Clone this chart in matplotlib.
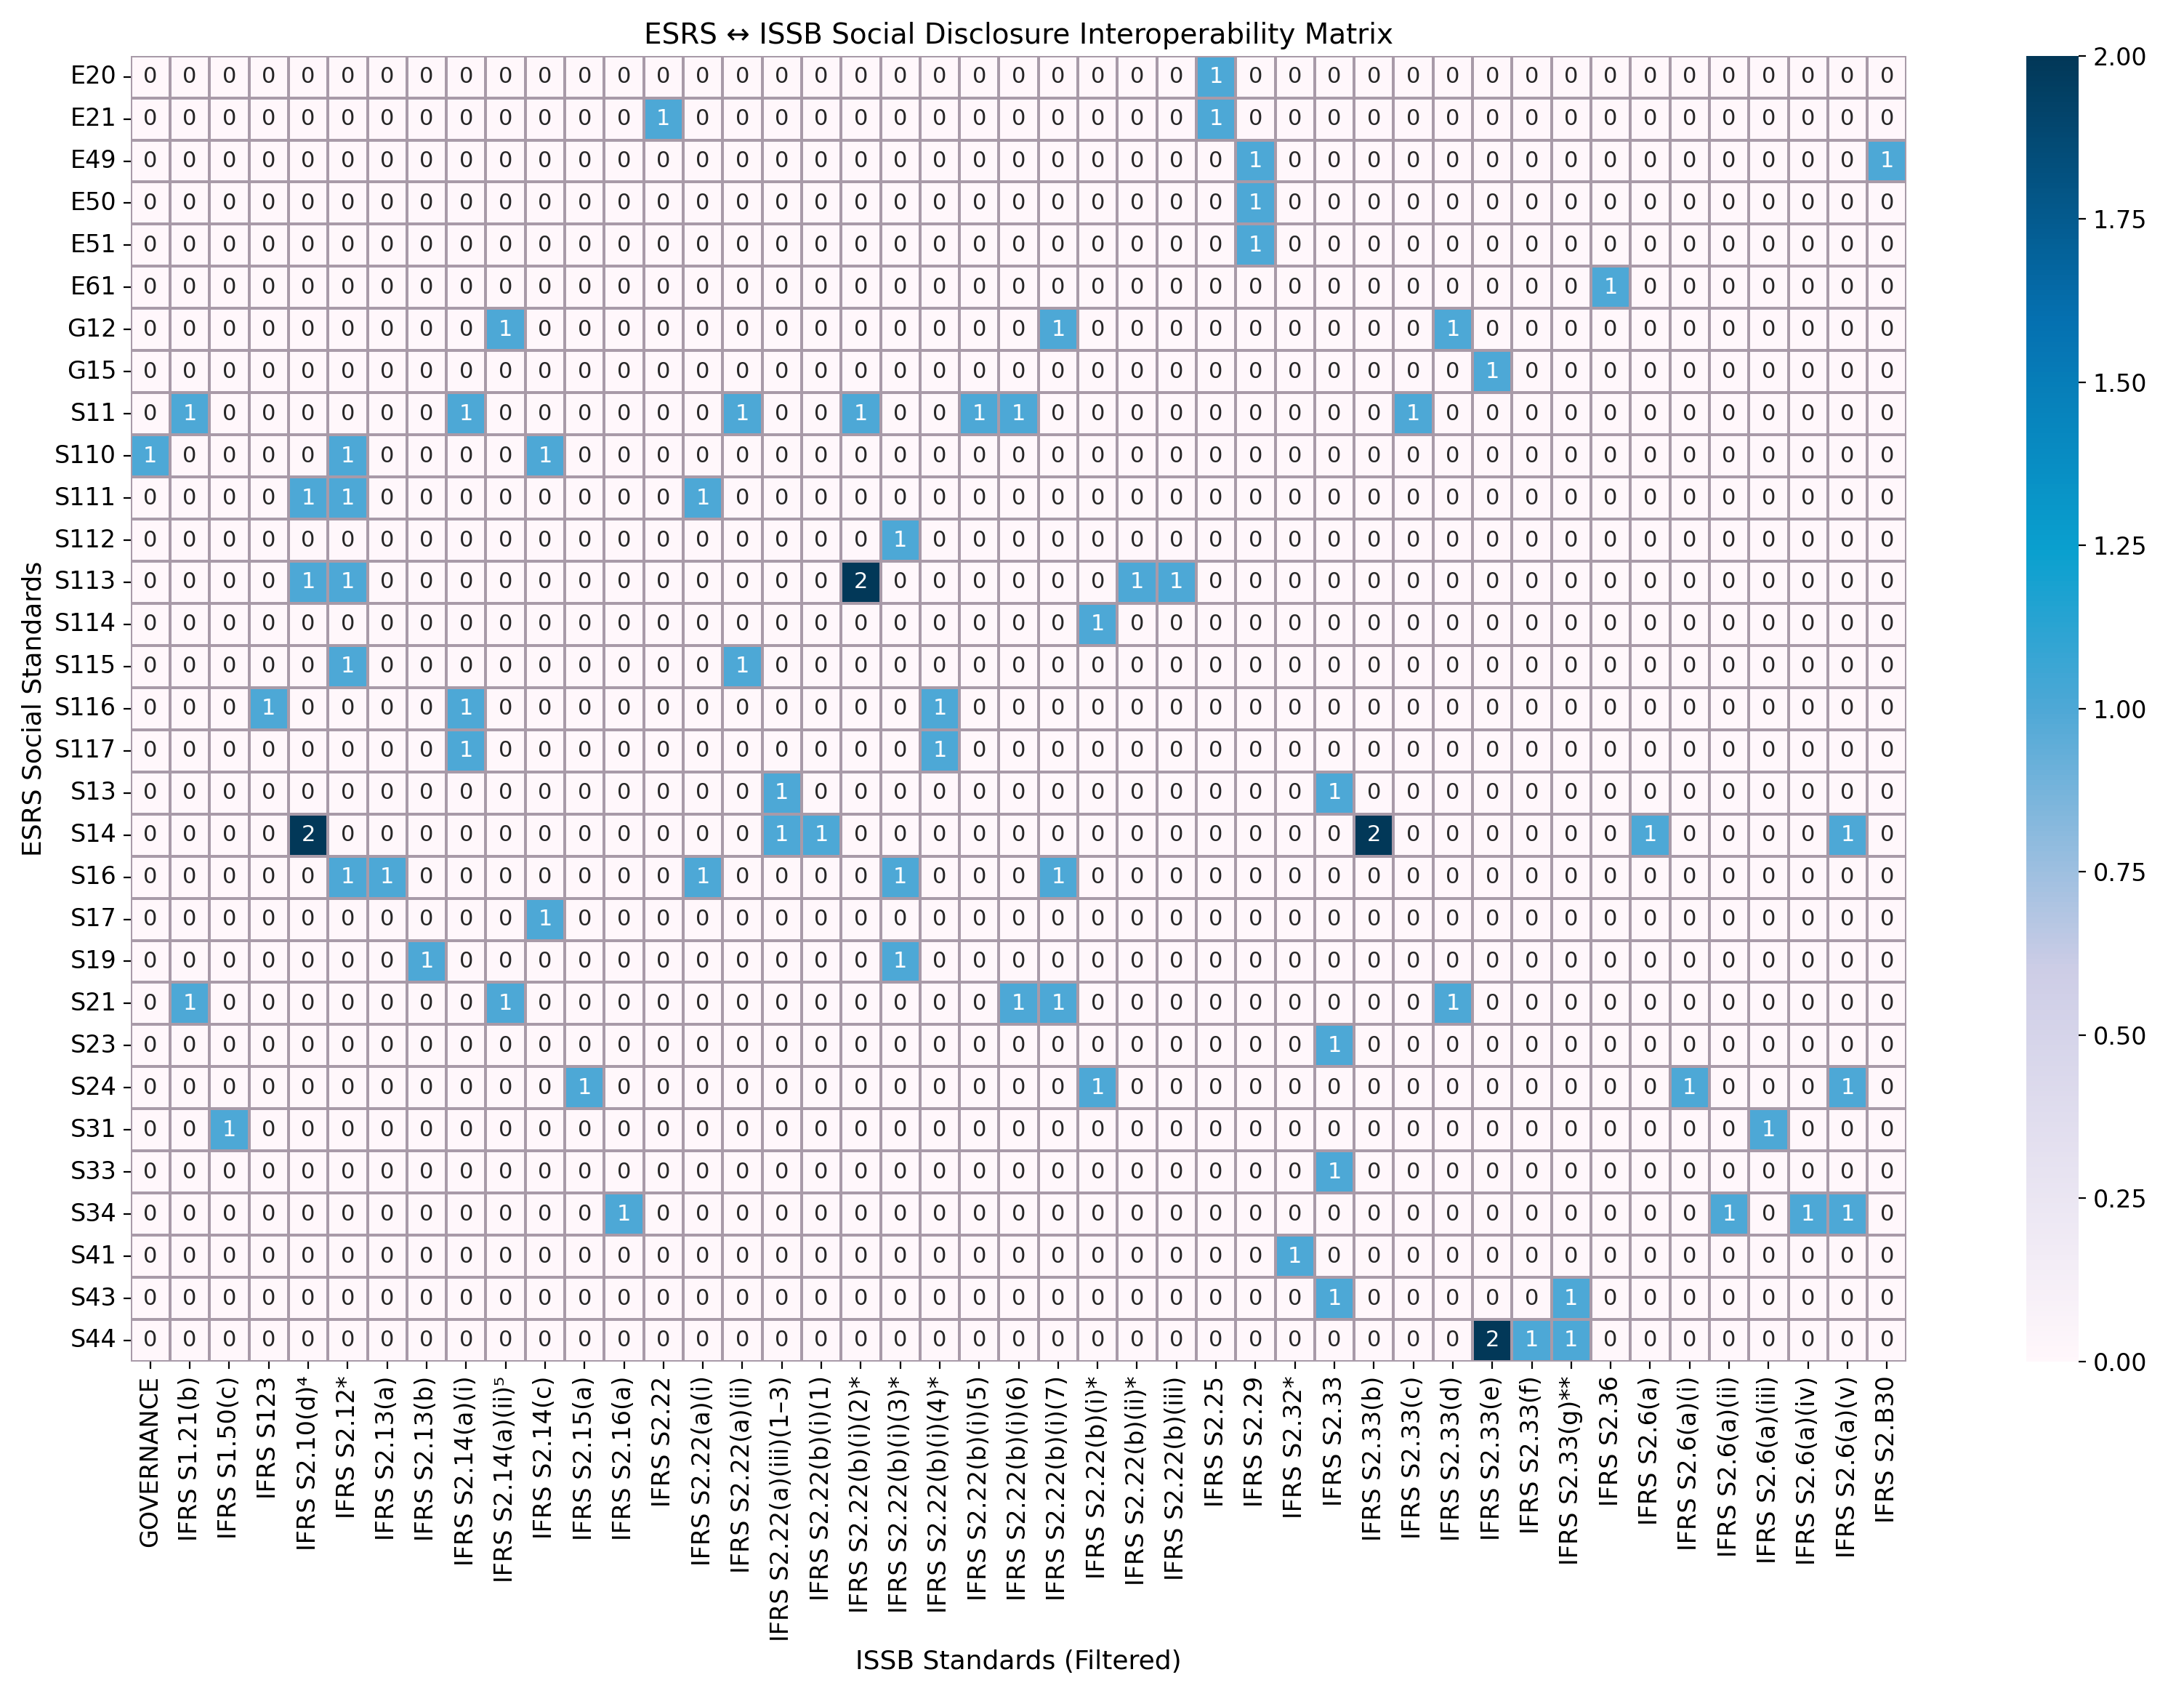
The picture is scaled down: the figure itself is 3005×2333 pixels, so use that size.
import numpy as np
import matplotlib.pyplot as plt
import seaborn as sns
from matplotlib.colors import LinearSegmentedColormap

rows = ["E20", "E21", "E49", "E50", "E51", "E61", "G12", "G15", "S11", "S110",
        "S111", "S112", "S113", "S114", "S115", "S116", "S117", "S13", "S14", "S16",
        "S17", "S19", "S21", "S23", "S24", "S31", "S33", "S34", "S41", "S43", "S44"]

cols = ["GOVERNANCE", "IFRS S1.21(b)", "IFRS S1.50(c)", "IFRS S123", "IFRS S2.10(d)⁴",
        "IFRS S2.12*", "IFRS S2.13(a)", "IFRS S2.13(b)", "IFRS S2.14(a)(i)", "IFRS S2.14(a)(ii)⁵",
        "IFRS S2.14(c)", "IFRS S2.15(a)", "IFRS S2.16(a)", "IFRS S2.22", "IFRS S2.22(a)(i)",
        "IFRS S2.22(a)(ii)", "IFRS S2.22(a)(iii)(1–3)", "IFRS S2.22(b)(i)(1)", "IFRS S2.22(b)(i)(2)*",
        "IFRS S2.22(b)(i)(3)*", "IFRS S2.22(b)(i)(4)*", "IFRS S2.22(b)(i)(5)", "IFRS S2.22(b)(i)(6)",
        "IFRS S2.22(b)(i)(7)", "IFRS S2.22(b)(i)*", "IFRS S2.22(b)(ii)*", "IFRS S2.22(b)(iii)",
        "IFRS S2.25", "IFRS S2.29", "IFRS S2.32*", "IFRS S2.33", "IFRS S2.33(b)", "IFRS S2.33(c)",
        "IFRS S2.33(d)", "IFRS S2.33(e)", "IFRS S2.33(f)", "IFRS S2.33(g)**", "IFRS S2.36",
        "IFRS S2.6(a)", "IFRS S2.6(a)(i)", "IFRS S2.6(a)(ii)", "IFRS S2.6(a)(iii)",
        "IFRS S2.6(a)(iv)", "IFRS S2.6(a)(v)", "IFRS S2.B30"]

# nonzero cells: row -> {column index: value}
links = {
    "E20": {27: 1},
    "E21": {13: 1, 27: 1},
    "E49": {28: 1, 44: 1},
    "E50": {28: 1},
    "E51": {28: 1},
    "E61": {37: 1},
    "G12": {9: 1, 23: 1, 33: 1},
    "G15": {34: 1},
    "S11": {1: 1, 8: 1, 15: 1, 18: 1, 21: 1, 22: 1, 32: 1},
    "S110": {0: 1, 5: 1, 10: 1},
    "S111": {4: 1, 5: 1, 14: 1},
    "S112": {19: 1},
    "S113": {4: 1, 5: 1, 18: 2, 25: 1, 26: 1},
    "S114": {24: 1},
    "S115": {5: 1, 15: 1},
    "S116": {3: 1, 8: 1, 20: 1},
    "S117": {8: 1, 20: 1},
    "S13": {16: 1, 30: 1},
    "S14": {4: 2, 16: 1, 17: 1, 31: 2, 38: 1, 43: 1},
    "S16": {5: 1, 6: 1, 14: 1, 19: 1, 23: 1},
    "S17": {10: 1},
    "S19": {7: 1, 19: 1},
    "S21": {1: 1, 9: 1, 22: 1, 23: 1, 33: 1},
    "S23": {30: 1},
    "S24": {11: 1, 24: 1, 39: 1, 43: 1},
    "S31": {2: 1, 41: 1},
    "S33": {30: 1},
    "S34": {12: 1, 40: 1, 42: 1, 43: 1},
    "S41": {29: 1},
    "S43": {30: 1, 36: 1},
    "S44": {34: 2, 35: 1, 36: 1},
}

matrix = np.zeros((len(rows), len(cols)), dtype=int)
for i, r in enumerate(rows):
    for j, v in links.get(r, {}).items():
        matrix[i, j] = v

cmap = LinearSegmentedColormap.from_list("pubu_bright", [
    (0.0, "#fff7fb"), (0.3, "#cdcde6"), (0.5, "#4ea8d6"),
    (0.62, "#0aa0cf"), (0.8, "#0570b0"), (1.0, "#023858")])

fig, ax = plt.subplots(figsize=(15.025, 11.665), dpi=200)
sns.heatmap(matrix, ax=ax, cmap=cmap, vmin=0, vmax=2, annot=True, fmt="d",
            linewidths=0.8, linecolor="#a89aa8", xticklabels=cols, yticklabels=rows,
            annot_kws={"size": 11}, cbar_kws={"pad": 0.06, "fraction": 0.05, "aspect": 25})
ax.set_title("ESRS \u2194 ISSB Social Disclosure Interoperability Matrix", fontsize=14)
ax.set_xlabel("ISSB Standards (Filtered)", fontsize=13)
ax.set_ylabel("ESRS Social Standards", fontsize=13)
ax.tick_params(axis="x", labelsize=12, rotation=90)
ax.tick_params(axis="y", labelsize=12, rotation=0)
cbar = ax.collections[0].colorbar
cbar.ax.tick_params(labelsize=12)
cbar.set_ticks(np.arange(0, 2.01, 0.25))
cbar.ax.yaxis.set_major_formatter(plt.FormatStrFormatter("%.2f"))

plt.tight_layout()
plt.savefig("out.png", dpi=200)
